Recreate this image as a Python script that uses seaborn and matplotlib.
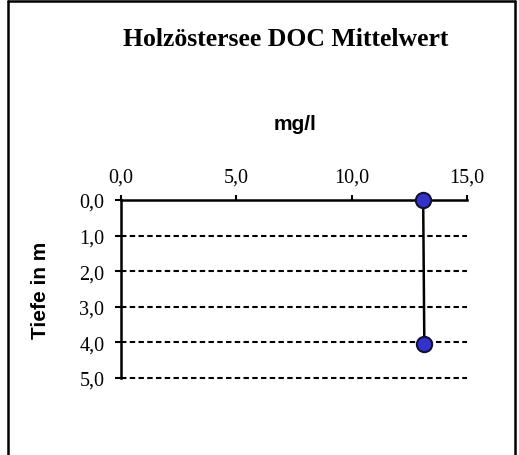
import matplotlib
matplotlib.use("Agg")
import matplotlib.pyplot as plt
import seaborn as sns
import pandas as pd
from matplotlib.lines import Line2D
from matplotlib.ticker import FixedLocator, FuncFormatter

# values
depth_m = [0.0, 4.05]
doc_mgl = [13.1, 13.15]
x_ticks = [0, 5, 10, 15]
y_ticks = [0, 1, 2, 3, 4, 5]

df = pd.DataFrame({"doc": doc_mgl, "depth": depth_m})

sns.set_theme(style="white")
plt.rcParams["font.family"] = ["Liberation Serif", "DejaVu Serif"]
plt.rcParams["text.color"] = "black"

fig = plt.figure(figsize=(5.19, 4.56), dpi=100)
ax = fig.add_axes([121 / 519, 1 - 379 / 456, (467 - 121) / 519, (379 - 201) / 456])

sns.lineplot(
    data=df, x="doc", y="depth", sort=False, estimator=None, ax=ax,
    color="black", linewidth=1.8, marker="o", markersize=11,
    markerfacecolor="#3333cc", markeredgecolor="#111133", markeredgewidth=1.5,
    zorder=5, clip_on=False,
)

ax.set_xlim(0, 15)
ax.set_ylim(5, 0)
ax.xaxis.set_major_locator(FixedLocator(x_ticks))
ax.yaxis.set_major_locator(FixedLocator(y_ticks))
fmt = FuncFormatter(lambda v, p: f"{v:.1f}".replace(".", ","))
ax.xaxis.set_major_formatter(fmt)
ax.yaxis.set_major_formatter(fmt)

ax.xaxis.tick_top()
ax.tick_params(axis="x", top=True, bottom=False, direction="out", length=3.5,
               width=1.5, color="black", pad=6, labelsize=14.5, labelcolor="black")
ax.tick_params(axis="y", left=True, direction="out", length=4, width=1.5,
               color="black", pad=8, labelsize=14.5, labelcolor="black")

for y in y_ticks[1:]:
    ax.axhline(y, color="black", linewidth=1.5, linestyle=(0, (2.6, 1.6)),
               zorder=1, clip_on=False)

for side in ["right", "bottom"]:
    ax.spines[side].set_visible(False)
for side in ["top", "left"]:
    ax.spines[side].set_color("black")
    ax.spines[side].set_linewidth(1.8)
    ax.spines[side].set_zorder(3)

ax.set_xlabel("")
ax.set_ylabel("")

fig.text(286 / 519, 1 - 40 / 456, "Holzöstersee DOC Mittelwert", ha="center",
         va="center", fontsize=18.5, fontweight="bold", color="black",
         family=["Liberation Serif"])
fig.text(295 / 519, 1 - 125 / 456, "mg/l", ha="center", va="center",
         fontsize=15, fontweight="bold", color="black", family=["Liberation Sans"])
fig.text(41 / 519, 1 - 290 / 456, "Tiefe in m", ha="center", va="center",
         rotation=90, fontsize=15, fontweight="bold", color="black",
         family=["Liberation Sans"])

# chart frame
for xs, ys in [([8 / 519, 8 / 519], [0, 1 - 2 / 456]),
               ([8 / 519, 515 / 519], [1 - 2 / 456, 1 - 2 / 456]),
               ([515 / 519, 515 / 519], [0, 1 - 2 / 456])]:
    fig.add_artist(Line2D(xs, ys, transform=fig.transFigure, color="black", linewidth=1.8))

fig.savefig("out.png", dpi=100)
